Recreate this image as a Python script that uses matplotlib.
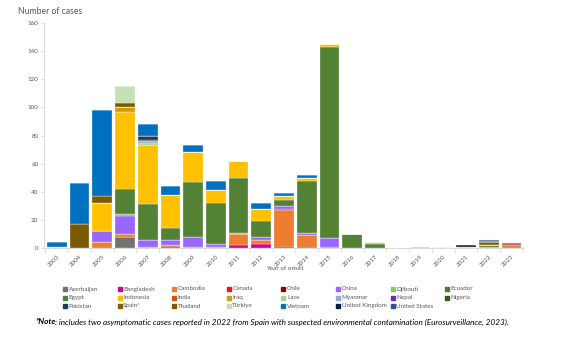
import matplotlib.pyplot as plt
from matplotlib.patches import Rectangle
import numpy as np

plt.rcParams['font.family'] = ['Lato', 'DejaVu Sans']

years = [str(y) for y in range(2003, 2024)]

# cases per year of onset, 2003..2023
azerbaijan = [0, 0, 0, 8, 0, 0, 0, 0, 0, 0, 0, 0, 0, 0, 0, 0, 0, 0, 0, 0, 0]
bangladesh = [0, 0, 0, 0, 0, 1, 0, 0, 2, 3, 1, 0, 1, 0, 0, 0, 0, 0, 0, 0, 0]
cambodia   = [0, 0, 4, 2, 1, 1, 1, 1, 8, 3, 26, 9, 0, 0, 0, 0, 0, 0, 0, 0, 2]
canada     = [0, 0, 0, 0, 0, 0, 0, 0, 0, 0, 1, 0, 0, 0, 0, 0, 0, 0, 0, 0, 0]
chile      = [0, 0, 0, 0, 0, 0, 0, 0, 0, 0, 0, 0, 0, 0, 0, 0, 0, 0, 0, 0, 1]
china      = [1, 0, 8, 13, 5, 4, 7, 2, 1, 2, 2, 2, 6, 0, 0, 0, 0, 0, 0, 1, 1]
djibouti   = [0, 0, 0, 1, 0, 0, 0, 0, 0, 0, 0, 0, 0, 0, 0, 0, 0, 0, 0, 0, 0]
ecuador    = [0, 0, 0, 0, 0, 0, 0, 0, 0, 0, 0, 0, 0, 0, 0, 0, 0, 0, 0, 1, 0]
egypt      = [0, 0, 0, 18, 25, 8, 39, 29, 39, 11, 4, 37, 136, 10, 3, 0, 0, 0, 0, 0, 0]
indonesia  = [0, 0, 20, 55, 42, 24, 21, 9, 12, 9, 3, 2, 2, 0, 1, 0, 0, 0, 0, 0, 0]
india      = [0, 0, 0, 0, 0, 0, 0, 0, 0, 0, 0, 0, 0, 0, 0, 0, 0, 0, 1, 0, 0]
iraq       = [0, 0, 0, 3, 0, 0, 0, 0, 0, 0, 0, 0, 0, 0, 0, 0, 0, 0, 0, 0, 0]
laos       = [0, 0, 0, 0, 2, 0, 0, 0, 0, 0, 0, 0, 0, 0, 0, 0, 0, 1, 0, 0, 0]
myanmar    = [0, 0, 0, 0, 1, 0, 0, 0, 0, 0, 0, 0, 0, 0, 0, 0, 0, 0, 0, 0, 0]
nepal      = [0, 0, 0, 0, 0, 0, 0, 0, 0, 0, 0, 0, 0, 0, 0, 0, 1, 0, 0, 0, 0]
nigeria    = [0, 0, 0, 0, 1, 0, 0, 0, 0, 0, 0, 0, 0, 0, 0, 0, 0, 0, 0, 0, 0]
pakistan   = [0, 0, 0, 0, 3, 0, 0, 0, 0, 0, 0, 0, 0, 0, 0, 0, 0, 0, 0, 0, 0]
spain      = [0, 0, 0, 0, 0, 0, 0, 0, 0, 0, 0, 0, 0, 0, 0, 0, 0, 0, 0, 2, 0]
thailand   = [0, 17, 5, 3, 0, 0, 0, 0, 0, 0, 0, 0, 0, 0, 0, 0, 0, 0, 0, 0, 0]
turkiye    = [0, 0, 0, 12, 0, 0, 0, 0, 0, 0, 0, 0, 0, 0, 0, 0, 0, 0, 0, 0, 0]
vietnam    = [3, 29, 61, 0, 8, 6, 5, 7, 0, 4, 2, 2, 0, 0, 0, 0, 0, 0, 0, 1, 0]
uk         = [0, 0, 0, 0, 0, 0, 0, 0, 0, 0, 0, 0, 0, 0, 0, 0, 0, 0, 1, 0, 0]
usa        = [0, 0, 0, 0, 0, 0, 0, 0, 0, 0, 0, 0, 0, 0, 0, 0, 0, 0, 0, 1, 0]

series = [
    ('Azerbaijan', azerbaijan, '#767171'),
    ('Bangladesh', bangladesh, '#d60093'),
    ('Cambodia', cambodia, '#ed7d31'),
    ('Canada', canada, '#e01b1b'),
    ('Chile', chile, '#8b0000'),
    ('China', china, '#9966ff'),
    ('Djibouti', djibouti, '#92c36a'),
    ('Ecuador', ecuador, '#4e7a2e'),
    ('Egypt', egypt, '#548235'),
    ('Indonesia', indonesia, '#ffc000'),
    ('India', india, '#c55a11'),
    ('Iraq', iraq, '#d09c00'),
    ('Laos', laos, '#a9d18e'),
    ('Myanmar', myanmar, '#8faadc'),
    ('Nepal', nepal, '#7030a0'),
    ('Nigeria', nigeria, '#375623'),
    ('Pakistan', pakistan, '#203864'),
    ('Spain*', spain, '#7f6000'),
    ('Thailand', thailand, '#7a5a00'),
    ('Türkiye', turkiye, '#c5e0b4'),
    ('Vietnam', vietnam, '#0070c0'),
    ('United Kingdom', uk, '#0d1a48'),
    ('United States', usa, '#2f5597'),
]

grey = '#595959'
axis_grey = '#d9d9d9'

fig = plt.figure(figsize=(5.67, 3.38), dpi=100)
ax = fig.add_axes([0.0776, 0.266, 0.8444, 0.666])

x = np.arange(len(years))
bottom = np.zeros(len(years))
for name, vals, color in series:
    vals = np.array(vals, dtype=float)
    ax.bar(x, vals, bottom=bottom, width=0.87, color=color,
           edgecolor='white', linewidth=0.2)
    bottom += vals

ax.set_xlim(-0.56, len(years) - 0.5)
ax.set_ylim(0, 160)
ax.set_yticks(range(0, 161, 20))
ax.tick_params(axis='y', labelsize=4.5, labelcolor=grey, color=axis_grey,
               length=2, width=0.6, pad=2)
ax.set_xticks(x)
ax.set_xticklabels(years, rotation=45, ha='right', rotation_mode='anchor')
ax.tick_params(axis='x', labelsize=4.5, labelcolor=grey, length=0, pad=4)
ax.set_xticks(np.arange(-0.5, len(years), 1), minor=True)
ax.tick_params(axis='x', which='minor', length=3, color=axis_grey, width=0.6)

for side in ['top', 'right']:
    ax.spines[side].set_visible(False)
for side in ['left', 'bottom']:
    ax.spines[side].set_color(axis_grey)
    ax.spines[side].set_linewidth(0.7)

fig.text(18 / 567, 1 - 12 / 338, 'Number of cases', fontsize=6.2, color=grey,
         va='center', ha='left')
fig.text(285 / 567, 1 - 268 / 338, 'Year of onset', fontsize=4.6, color=grey,
         va='center', ha='center')

# legend laid out on an even grid, row by row
col_x = [63 + 54.6 * i for i in range(8)]
row_y = [289, 297.5, 306]
for i, (name, vals, color) in enumerate(series):
    r, c = divmod(i, 8)
    px, py = col_x[c], row_y[r]
    fig.patches.append(Rectangle((px / 567, 1 - (py + 2) / 338), 4 / 567, 4 / 338,
                                 transform=fig.transFigure, color=color))
    fig.text((px + 5.5) / 567, 1 - py / 338, name, fontsize=4.5, color=grey,
             va='center', ha='left')

note_y = 1 - 322 / 338
note = fig.text(35 / 567, note_y, '*Note', fontsize=5.9, style='italic',
                weight='bold', color='black', va='center', ha='left')
fig.canvas.draw()
bb = note.get_window_extent()
fig.text(bb.x1 / fig.bbox.width, note_y,
         ': includes two asymptomatic cases reported in 2022 from Spain with suspected '
         'environmental contamination (Eurosurveillance, 2023).',
         fontsize=5.9, style='italic', color='black', va='center', ha='left')

fig.savefig('out.png', dpi=100)
